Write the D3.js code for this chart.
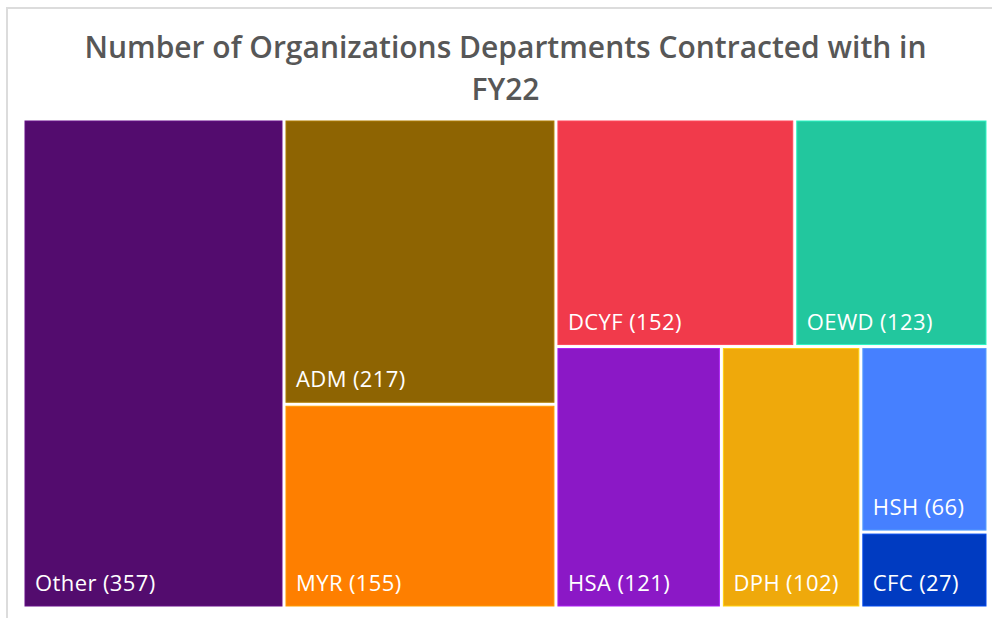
<!DOCTYPE html>
<html>
<head>
<meta charset="utf-8">
<script src="https://cdn.jsdelivr.net/npm/d3@7"></script>
<style>
  html, body { margin: 0; padding: 0; background: #fff; }
  svg { display: block; }
</style>
</head>
<body>
<svg id="chart" width="992" height="618"></svg>
<script>
// Departments and number of organizations contracted with in FY22
const departments = ["Other", "ADM", "MYR", "DCYF", "OEWD", "HSA", "DPH", "HSH", "CFC"];
const counts = [357, 217, 155, 152, 123, 121, 102, 66, 27];
const colors = ["#530C6E", "#8E6402", "#FE7F00", "#F13A4B", "#22C79E", "#8B18C6", "#EFA90B", "#4680FF", "#003BC1"];

const titleLines = ["Number of Organizations Departments Contracted with in", "FY22"];

const W = 992, H = 618;
const area = { x0: 25, y0: 121, x1: 986, y1: 606 };

const svg = d3.select("#chart");

// light card frame (top and left edges)
svg.append("path")
  .attr("d", `M7,${H} L7,8 L${W},8`)
  .attr("fill", "none")
  .attr("stroke", "#dcdcdc")
  .attr("stroke-width", 2);

// title
const title = svg.append("text")
  .attr("text-anchor", "middle")
  .attr("fill", "#575757")
  .attr("font-family", "'Open Sans', 'Noto Sans', sans-serif")
  .attr("font-weight", 600)
  .attr("font-size", 30);
titleLines.forEach((t, i) => {
  title.append("tspan")
    .attr("x", (area.x0 + area.x1) / 2)
    .attr("y", 58 + i * 42)
    .text(t);
});

// treemap layout
const data = departments.map((d, i) => ({ name: d, value: counts[i], color: colors[i] }));
const root = d3.hierarchy({ children: data })
  .sum(d => d.value || 0)
  .sort((a, b) => b.value - a.value);

d3.treemap()
  .tile(d3.treemapSquarify.ratio(1))
  .size([area.x1 - area.x0, area.y1 - area.y0])
  .paddingInner(4)
  .round(false)(root);

const g = svg.append("g").attr("transform", `translate(${area.x0},${area.y0})`);

const cell = g.selectAll("g.cell")
  .data(root.leaves())
  .join("g")
  .attr("class", "cell")
  .attr("transform", d => `translate(${d.x0},${d.y0})`);

cell.append("rect")
  .attr("width", d => d.x1 - d.x0)
  .attr("height", d => d.y1 - d.y0)
  .attr("fill", d => d.data.color)
  .attr("stroke", d => d3.color(d.data.color).brighter(0.6))
  .attr("stroke-width", 1);

cell.append("text")
  .attr("x", 10)
  .attr("y", d => d.y1 - d.y0 - 15)
  .attr("fill", "#ffffff")
  .attr("font-family", "'Open Sans', 'Noto Sans', sans-serif")
  .attr("font-size", 22)
  .attr("letter-spacing", 0.4)
  .text(d => `${d.data.name} (${d.data.value})`);
</script>
</body>
</html>
